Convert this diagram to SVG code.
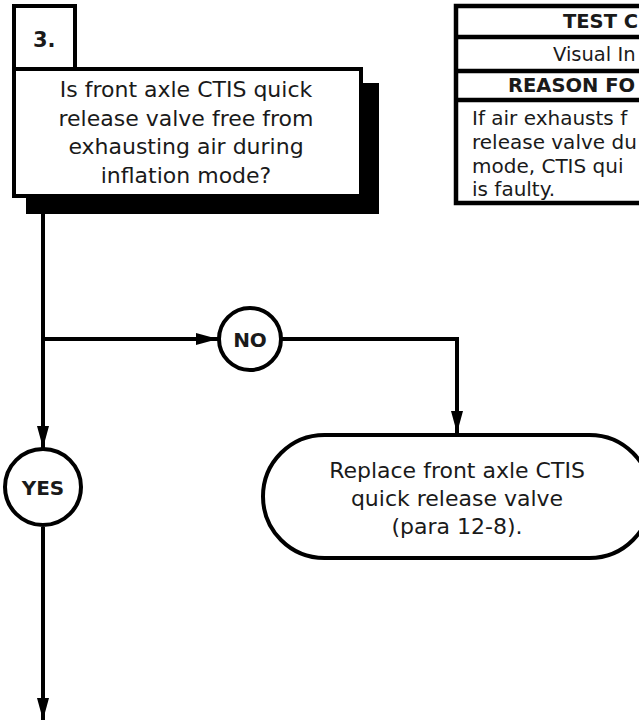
<svg xmlns="http://www.w3.org/2000/svg" width="639" height="721" viewBox="0 0 639 721">
<defs>
<style>
.t{font-family:"DejaVu Sans","Liberation Sans",sans-serif;fill:#1a1a1a}
.r{font-size:22px}
.b{font-weight:bold}
.m{text-anchor:middle}
.tb{font-size:20px}
.ln{fill:none;stroke:#000;stroke-width:4}
.bx{fill:#fff;stroke:#000;stroke-width:4}
.sep{stroke:#000;stroke-width:4.5}
</style>
<marker id="ah" markerUnits="userSpaceOnUse" markerWidth="24" markerHeight="14" refX="22" refY="7" orient="auto">
<path d="M0,1 L22,7 L0,13 Z" fill="#000"/>
</marker>
</defs>
<rect width="639" height="721" fill="#fff"/>

<g id="step3">
<rect x="26" y="83" width="353" height="131" fill="#000"/>
<rect class="bx" x="14" y="6" width="61" height="63"/>
<text class="t b" x="33" y="47" font-size="21">3.</text>
<rect class="bx" x="14" y="69" width="347" height="127"/>
<text class="t r m" x="186" y="97">Is front axle CTIS quick</text>
<text class="t r m" x="186" y="125.5">release valve free from</text>
<text class="t r m" x="186" y="154">exhausting air during</text>
<text class="t r m" x="186" y="182.5">inflation mode?</text>
</g>

<g id="table">
<rect x="456" y="6" width="200" height="197" fill="#fff" stroke="#000" stroke-width="4.5"/>
<line class="sep" x1="456" y1="37" x2="656" y2="37"/>
<line class="sep" x1="456" y1="71" x2="656" y2="71"/>
<line class="sep" x1="456" y1="100" x2="656" y2="100"/>
<text class="t b" x="563" y="28" font-size="19.5">TEST C</text>
<text class="t" x="553" y="61" font-size="19.5">Visual In</text>
<text class="t b" x="508" y="92" font-size="19.5">REASON FO</text>
<text class="t tb" x="472" y="125">If air exhausts f</text>
<text class="t tb" x="472" y="149">release valve du</text>
<text class="t tb" x="472" y="173">mode, CTIS qui</text>
<text class="t tb" x="472" y="196">is faulty.</text>
</g>

<g id="connectors">
<line class="ln" x1="43" y1="214" x2="43" y2="448" marker-end="url(#ah)"/>
<line class="ln" x1="43" y1="339" x2="218" y2="339" marker-end="url(#ah)"/>
<polyline class="ln" points="282,339 457,339 457,433" marker-end="url(#ah)"/>
<line class="ln" x1="43" y1="527" x2="43" y2="720" marker-end="url(#ah)"/>
</g>

<g id="no">
<circle class="bx" cx="250" cy="339" r="31"/>
<text class="t b m" x="250" y="346.5" font-size="20">NO</text>
</g>

<g id="yes">
<circle class="bx" cx="43" cy="487" r="38"/>
<text class="t b m" x="43" y="494.5" font-size="20">YES</text>
</g>

<g id="replace">
<rect class="bx" x="263" y="435" width="388" height="123" rx="61.5" ry="61.5"/>
<text class="t r m" x="457" y="478">Replace front axle CTIS</text>
<text class="t r m" x="457" y="506">quick release valve</text>
<text class="t r m" x="457" y="534">(para 12-8).</text>
</g>
</svg>
